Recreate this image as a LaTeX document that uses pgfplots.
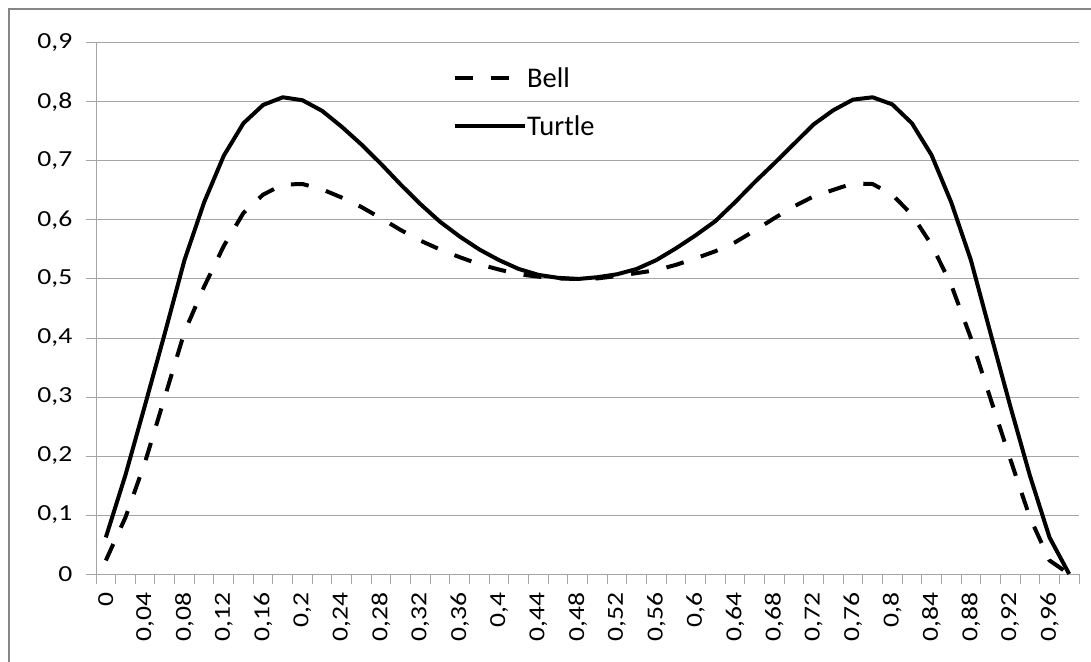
\documentclass[border=0pt]{standalone}
\usepackage{fontspec}
\setmainfont{Carlito}
\newfontfamily\tickfont[FakeStretch=1.2]{Carlito}
\usepackage{pgfplots}
\pgfplotsset{compat=1.18}
\definecolor{gridc}{RGB}{165,165,165}
\definecolor{framec}{RGB}{134,134,134}
\begin{document}
\begin{tikzpicture}
\path[use as bounding box] (-96pt,-87pt) rectangle (995pt,574pt);
\draw[framec, line width=2.2pt] (-87pt,-95pt) -- (-87pt,565pt) -- (1000pt,565pt);
\begin{axis}[
  at={(0pt,0pt)}, anchor=south west,
  scale only axis, width=983pt, height=531pt,
  xmin=-0.5, xmax=49.5, ymin=0, ymax=0.9,
  axis lines=left, axis line style={gridc, line width=1pt, -},
  clip=false,
  xtick={-0.5,0.5,...,49.5}, xticklabels={},
  ytick={0,0.1,0.2,0.3,0.4,0.5,0.6,0.7,0.8,0.9},
  yticklabels={0,{0,1},{0,2},{0,3},{0,4},{0,5},{0,6},{0,7},{0,8},{0,9}},
  tick align=outside, major tick length=9.5pt,
  tick style={gridc, line width=1pt},
  ymajorgrids, grid style={gridc, line width=1pt},
  tick label style={font={\fontsize{23}{26}\tickfont}, text=black},
  yticklabel style={anchor=east, inner sep=0pt, xshift=-14pt},
  extra x ticks={0,2,...,48},
  extra x tick labels={0,{0,04},{0,08},{0,12},{0,16},{0,2},{0,24},{0,28},{0,32},{0,36},{0,4},{0,44},{0,48},{0,52},{0,56},{0,6},{0,64},{0,68},{0,72},{0,76},{0,8},{0,84},{0,88},{0,92},{0,96}},
  extra x tick style={major tick length=0pt, xticklabel style={rotate=90, anchor=east, inner sep=0pt, xshift=-18pt}},
  legend style={draw=none, fill=none, at={(axis description cs:0.3632,0.8850)}, anchor=west,
    inner sep=0pt, row sep=24pt, font={\fontsize{28.5}{31}\selectfont},
    nodes={inner sep=0pt, text height=19pt, text depth=5pt},
    /tikz/every even column/.append style={column sep=9pt}},
  legend cell align=left,
  legend image code/.code={\draw[#1] (0pt,2pt) -- (70pt,2pt);},
]
\addplot[black, line width=4pt, line join=round, dash pattern=on 18pt off 18pt] coordinates {
(0,0.023)(1,0.096)(2,0.19)(3,0.30)(4,0.41)(5,0.487)(6,0.556)(7,0.612)(8,0.643)(9,0.660)
(10,0.661)(11,0.652)(12,0.638)(13,0.622)(14,0.603)(15,0.583)(16,0.565)(17,0.550)(18,0.537)(19,0.525)
(20,0.516)(21,0.508)(22,0.504)(23,0.501)(24,0.500)(25,0.501)(26,0.505)(27,0.510)(28,0.515)(29,0.524)
(30,0.535)(31,0.547)(32,0.562)(33,0.582)(34,0.603)(35,0.623)(36,0.640)(37,0.651)(38,0.662)(39,0.661)
(40,0.643)(41,0.609)(42,0.558)(43,0.49)(44,0.40)(45,0.297)(46,0.195)(47,0.096)(48,0.023)(49,0)
};
\addlegendentry{Bell}
\addplot[black, line width=4pt, line join=round] coordinates {
(0,0.062)(1,0.168)(2,0.287)(3,0.408)(4,0.532)(5,0.630)(6,0.709)(7,0.764)(8,0.795)(9,0.808)
(10,0.803)(11,0.785)(12,0.758)(13,0.728)(14,0.695)(15,0.660)(16,0.627)(17,0.597)(18,0.572)(19,0.550)
(20,0.532)(21,0.517)(22,0.507)(23,0.502)(24,0.500)(25,0.503)(26,0.508)(27,0.517)(28,0.532)(29,0.552)
(30,0.574)(31,0.598)(32,0.630)(33,0.664)(34,0.696)(35,0.729)(36,0.762)(37,0.786)(38,0.804)(39,0.808)
(40,0.796)(41,0.764)(42,0.710)(43,0.630)(44,0.532)(45,0.408)(46,0.285)(47,0.167)(48,0.062)(49,0)
};
\addlegendentry{Turtle}
\end{axis}
\end{tikzpicture}
\end{document}
